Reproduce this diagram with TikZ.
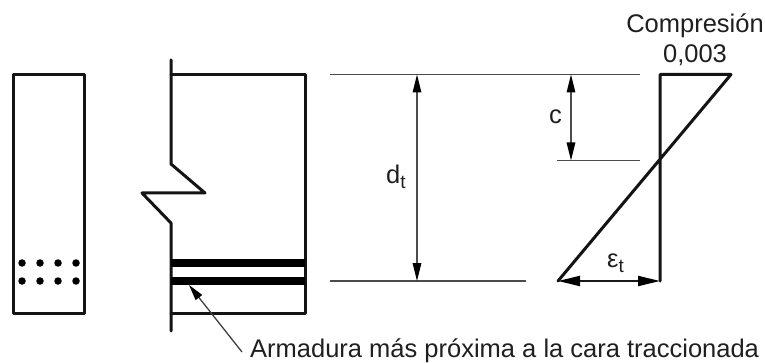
\documentclass[tikz,border=0pt]{standalone}
\usepackage{fontspec}
\setmainfont{Liberation Sans}
\usetikzlibrary{arrows.meta}
\newcommand{\subt}{\raisebox{-5pt}{\fontsize{19}{20}\selectfont t}}
\tikzset{
  thick line/.style={line width=3pt,line join=round,line cap=round,black!92},
  thin line/.style={line width=1.6pt,black!70},
  dim/.style={line width=1.6pt,black!70,{Triangle[length=18pt,width=8.5pt,black]}-{Triangle[length=18pt,width=8.5pt,black]}},
  bar/.style={line width=7.5pt,black},
  dot/.style={circle,fill=black,inner sep=0pt,minimum size=7.5pt},
  lbl/.style={inner sep=0pt,font=\fontsize{25.5}{28}\selectfont,text=black!88}
}
\begin{document}
\begin{tikzpicture}[x=1pt,y=-1pt]
\useasboundingbox[fill=white] (0,0) rectangle (765,363);
% section
\draw[thick line] (13,74.5) rectangle (84,313);
\foreach \x/\i in {22/a,40/b,58/c,76/d}{
  \node[dot] (u\i) at (\x,263) {};
  \node[dot] (l\i) at (\x,281) {};
}
% elevation
\draw[thick line] (171,60) -- (171,164) -- (205,193) -- (142,193) -- (171,223) -- (171,331);
\draw[thick line] (171,74.5) -- (305,74.5) -- (305,313) -- (171,313);
\draw[bar] (171,263) -- (305,263);
\draw[bar] (171,281) -- (305,281);
% extension lines
\coordinate (t1) at (330,74.5); \coordinate (t2) at (640,74.5);
\coordinate (n1) at (557,160.5); \coordinate (n2) at (640,160.5);
\coordinate (b1) at (330,281); \coordinate (b2) at (526,281);
\draw[thin line] (t1) -- (t2);
\draw[thin line] (n1) -- (n2);
\draw[thin line] (b1) -- (b2);
% dimensions
\coordinate (dt1) at (417,74.5); \coordinate (dt2) at (417,281);
\coordinate (c1) at (571,74.5); \coordinate (c2) at (571,160.5);
\draw[dim] (dt1) -- (dt2);
\draw[dim] (c1) -- (c2);
\node[lbl,anchor=base west] (dtlab) at (386,184) {d\subt};
\node[lbl,anchor=base west] (clab) at (549,124) {c};
% strain diagram
\coordinate (s1) at (660,74.5); \coordinate (s2) at (731,74.5);
\coordinate (s3) at (558,281); \coordinate (s4) at (660,281);
\draw[thick line] (s4) -- (s1) -- (s2) -- (s3);
\draw[line width=2.2pt,black!90,{Triangle[length=22pt,width=10pt,black]}-{Triangle[length=22pt,width=10pt,black]}] (s3) -- (s4);
\node[lbl,anchor=base west] (elab) at (607,268) {ε\subt};
\node[lbl,anchor=base] (comp) at (695,33) {Compresión};
\node[lbl,anchor=base] (val) at (695,62.5) {0,003};
% note
\node[lbl,anchor=base west] (arm) at (250,357.5) {Armadura más próxima a la cara traccionada};
\coordinate (tip) at (189,285);
\coordinate (tail) at (242,352);
\draw[line width=1.3pt,black!75,-{Triangle[length=16pt,width=8pt,black]}] (tail) -- (tip);
\end{tikzpicture}
\end{document}
